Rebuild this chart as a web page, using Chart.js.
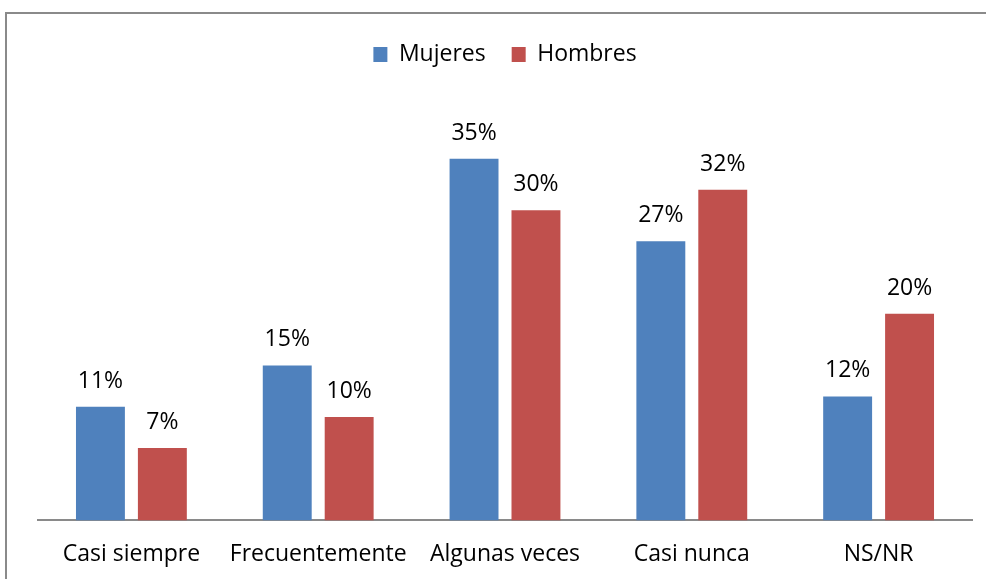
<!DOCTYPE html>
<html>
<head>
<meta charset="utf-8">
<script src="https://cdn.jsdelivr.net/npm/chart.js@4/dist/chart.umd.min.js"></script>
<style>
  html, body { margin: 0; padding: 0; background: #fff; overflow: hidden; }
  #wrap { position: relative; width: 986px; height: 579px; overflow: hidden; }
  #frame { position: absolute; left: 5px; top: 12px; width: 1100px; height: 700px; border: 2px solid #8a8a8a; box-sizing: border-box; pointer-events: none; }
  canvas { position: absolute; left: 0; top: 0; }
</style>
</head>
<body>
<div id="wrap">
  <canvas id="c" width="986" height="600"></canvas>
  <div id="frame"></div>
</div>
<script>
const categories = ["Casi siempre", "Frecuentemente", "Algunas veces", "Casi nunca", "NS/NR"];
const mujeres = [11, 15, 35, 27, 12];
const hombres = [7, 10, 30, 32, 20];
const seriesNames = ["Mujeres", "Hombres"];

const FONT = "'Open Sans', sans-serif";

const labelPlugin = {
  id: 'valueLabels',
  afterDatasetsDraw(chart) {
    const ctx = chart.ctx;
    ctx.save();
    ctx.font = "23px " + FONT;
    ctx.fillStyle = "#000";
    ctx.textAlign = "center";
    ctx.textBaseline = "alphabetic";
    chart.data.datasets.forEach((ds, di) => {
      const meta = chart.getDatasetMeta(di);
      meta.data.forEach((bar, i) => {
        ctx.fillText(ds.data[i] + "%", bar.x, bar.y - 19);
      });
    });
    ctx.restore();
  }
};

new Chart(document.getElementById('c'), {
  type: 'bar',
  data: {
    labels: categories,
    datasets: [
      { label: seriesNames[0], data: mujeres, backgroundColor: '#4F81BD', categoryPercentage: 0.663, barPercentage: 0.79 },
      { label: seriesNames[1], data: hombres, backgroundColor: '#C0504D', categoryPercentage: 0.663, barPercentage: 0.79 }
    ]
  },
  options: {
    responsive: false,
    devicePixelRatio: 1,
    animation: false,
    layout: { padding: { left: 38, right: 14, top: 17, bottom: 12 } },
    plugins: {
      legend: {
        position: 'top',
        labels: { font: { family: FONT, size: 23 }, color: '#000', boxWidth: 14, boxHeight: 15, padding: 26 }
      },
      tooltip: { enabled: false }
    },
    scales: {
      x: {
        grid: { display: false, drawTicks: false },
        border: { display: true, color: '#8a8a8a', width: 2 },
        ticks: { font: { family: FONT, size: 23 }, color: '#000', padding: 20 }
      },
      y: {
        display: false,
        min: 0,
        max: 43
      }
    }
  },
  plugins: [labelPlugin]
});
</script>
</body>
</html>
